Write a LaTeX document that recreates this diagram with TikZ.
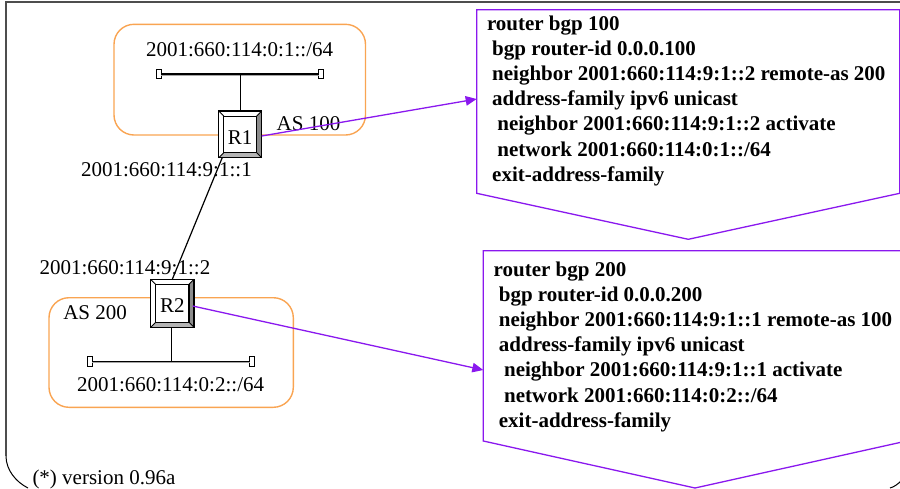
\documentclass[tikz,border=0pt]{standalone}
\usepackage{fontspec}
\setmainfont{Liberation Serif}
\usetikzlibrary{arrows.meta,calc}
\definecolor{orangeb}{HTML}{F9A452}
\definecolor{purp}{HTML}{8A18EE}
\definecolor{framec}{HTML}{4D4D4D}
\definecolor{beveld}{HTML}{8C8C8C}
\definecolor{bevelb}{HTML}{B4B4B4}
\tikzset{
  x=1pt,y=-1pt,
  lab/.style={inner sep=0pt,outer sep=0pt,anchor=base west,font=\fontsize{21}{25}\selectfont},
  code/.style={inner sep=0pt,outer sep=0pt,anchor=north west,align=left,font=\fontsize{21}{25.1}\selectfont\bfseries},
  asbox/.style={draw=orangeb,line width=1.4pt,rounded corners=20pt},
  router/.style={draw=black,fill=white,line width=1.3pt,inner sep=0pt,outer sep=0pt,font=\fontsize{21}{25}\selectfont,text depth=0pt},
  term/.style={draw=black,fill=white,line width=1pt,minimum width=5pt,minimum height=9.5pt,inner sep=0pt,outer sep=0pt},
  wire/.style={draw=black,line width=1.2pt},
  buswire/.style={draw=black,line width=1.1pt},
  busshade/.style={draw=gray!70,line width=0.8pt},
  conf/.style={draw=purp,line width=1.3pt},
  confbody/.style={minimum width=#1,inner sep=0pt,outer sep=0pt,anchor=north west},
  link/.style={draw=purp,line width=1.3pt,-{Triangle[length=11pt,width=9.5pt]}},
  edgeline/.style={draw=framec,line width=2pt},
  corner/.style={draw=black,line width=1pt},
}
\newcommand{\bevelfill}[2]{%
  \fill[#2] ($(#1.north east)+(0,0)$) -- ($(#1.north east)+(-5,5)$) -- ($(#1.south east)+(-5,-5)$) -- (#1.south east) -- cycle;
  \fill[bevelb] (#1.south west) -- ($(#1.south west)+(5,-5)$) -- ($(#1.south east)+(-5,-5)$) -- (#1.south east) -- cycle;
  \draw[black,line width=1.1pt] ($(#1.north west)+(5,5)$) rectangle ($(#1.south east)+(-5,-5)$);
  \draw[black,line width=0.9pt] (#1.north west) -- ++(5,5) (#1.north east) -- ++(-5,5) (#1.south west) -- ++(5,-5) (#1.south east) -- ++(-5,-5);
  \draw[black,line width=1.3pt] (#1.north west) rectangle (#1.south east);
}
\begin{document}
\begin{tikzpicture}
\useasboundingbox (0,0) rectangle (900,488);
% frame
\coordinate (ftl) at (6,1.5);
\coordinate (ftr) at (900,1.5);
\coordinate (fl) at (6,456);
\coordinate (fb) at (28,488);
\coordinate (fr1) at (890,488);
\coordinate (fr2) at (901,481);
\draw[edgeline] (ftr) -- (ftl) -- (fl);
\draw[corner] (fl) .. controls (6,470) and (16,482) .. (fb);
\draw[corner] (fr1) .. controls (894,487) and (898,484) .. (fr2);
% AS areas
\node[asbox,minimum width=251.5pt,minimum height=110.7pt,inner sep=0pt,outer sep=0pt,anchor=north west] (as1) at (114,24.3) {};
\node[asbox,minimum width=244.3pt,minimum height=109.6pt,inner sep=0pt,outer sep=0pt,anchor=north west] (as2) at (49,297.7) {};
% networks
\node[term] (t1a) at (158.5,74) {};
\node[term] (t1b) at (321,74) {};
\node[term] (t2a) at (89.8,361.5) {};
\node[term] (t2b) at (252.2,361.5) {};
\draw[busshade] ([yshift=-1.2pt]t1a.east) -- ([yshift=-1.2pt]t1b.west);
\draw[buswire] (t1a.east) -- (t1b.west);
\draw[busshade] ([yshift=-1.2pt]t2a.east) -- ([yshift=-1.2pt]t2b.west);
\draw[buswire] (t2a.east) -- (t2b.west);
% labels
\node[lab] (n1) at (146,56.7) {2001:660:114:0:1::/64};
\node[lab] (as100) at (276.7,130) {AS 100};
\node[lab] (a1) at (81,176.7) {2001:660:114:9:1::1};
\node[lab] (a2) at (39.5,274) {2001:660:114:9:1::2};
\node[lab] (as200) at (63.3,319.3) {AS 200};
\node[lab] (n2) at (77,391.3) {2001:660:114:0:2::/64};
\node[lab] (ver) at (32.5,484) {(*) version 0.96a};
% routers
\node[router,minimum width=43pt,minimum height=46.7pt,text height=21pt] (R1) at (240.2,134.4) {R1};
\node[router,minimum width=43.3pt,minimum height=48pt,text height=18.8pt] (R2) at (172.3,303.3) {R2};
\bevelfill{R1}{beveld}
\bevelfill{R2}{beveld}
\draw[wire] (R1.north) -- (R1.north |- t1a);
\draw[wire] (R2.south) ++(-1,0) -- ($(R2.south |- t2a)+(-1,0)$);
\draw[wire] ($(R1.south west)+(3.5,0)$) -- (R2.north);
% configuration boxes
\node[confbody=423pt,minimum height=183.6pt] (b1) at (476.7,9.7) {};
\coordinate (b1tip) at (688.3,239.3);
\draw[conf] (b1.north west) -- (b1.north east) -- (b1.south east) -- (b1tip) -- (b1.south west) -- cycle;
\node[confbody=423.4pt,minimum height=190.3pt] (b2) at (483.3,250.7) {};
\coordinate (b2tip) at (695,488);
\draw[conf] (b2.north west) -- (b2.north east) -- (b2.south east) -- (b2tip) -- (b2.south west) -- cycle;
\node[code] (c1) at (487,16) {router bgp 100\\
\hspace*{5.2pt}bgp router-id 0.0.0.100\\
\hspace*{5.2pt}neighbor 2001:660:114:9:1::2 remote-as 200\\
\hspace*{5.2pt}address-family ipv6 unicast\\
\hspace*{10.4pt}neighbor 2001:660:114:9:1::2 activate\\
\hspace*{10.4pt}network 2001:660:114:0:1::/64\\
\hspace*{5.2pt}exit-address-family};
\node[code] (c2) at (493.7,262) {router bgp 200\\
\hspace*{5.2pt}bgp router-id 0.0.0.200\\
\hspace*{5.2pt}neighbor 2001:660:114:9:1::1 remote-as 100\\
\hspace*{5.2pt}address-family ipv6 unicast\\
\hspace*{10.4pt}neighbor 2001:660:114:9:1::1 activate\\
\hspace*{10.4pt}network 2001:660:114:0:2::/64\\
\hspace*{5.2pt}exit-address-family};
% links
\draw[link] ($(R1.east)+(0,1.6)$) -- ($(b1.west)+(0,-2.5)$);
\draw[link] ($(R2.east)+(-1.3,2.7)$) -- ($(b2.north west)+(0,119.3)$);
\end{tikzpicture}
\end{document}
